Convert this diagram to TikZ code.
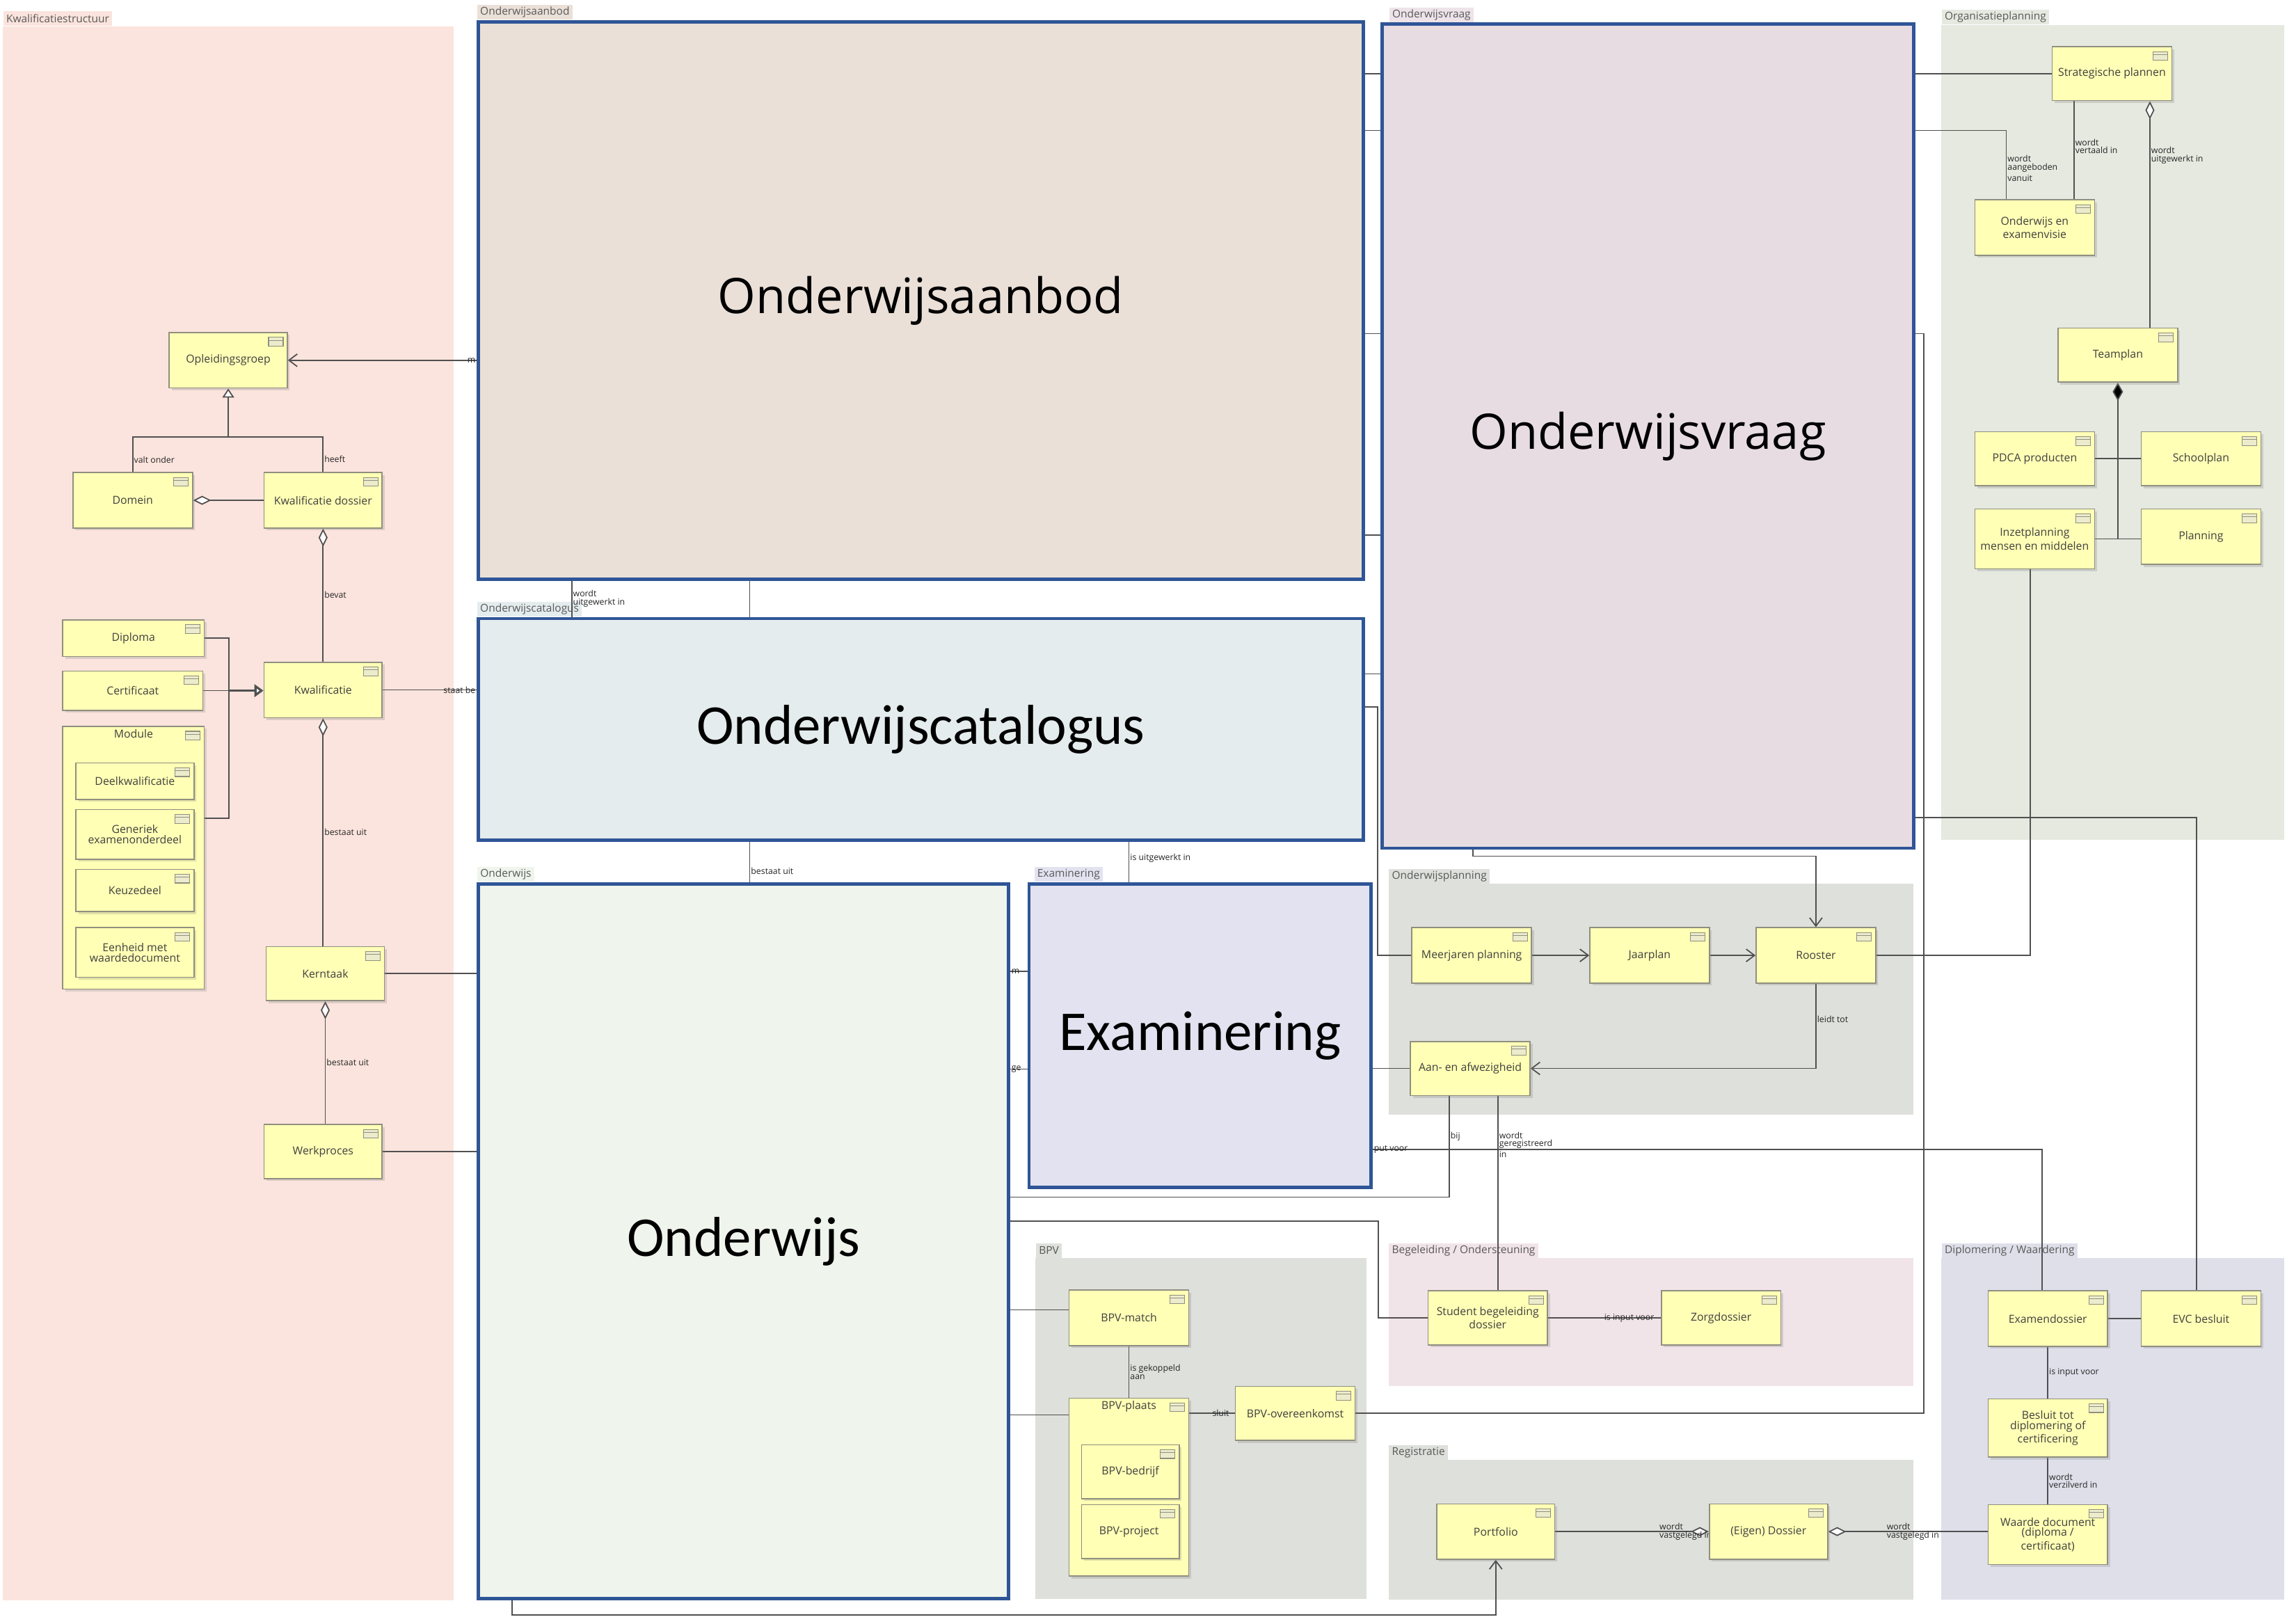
\documentclass[tikz,border=0pt]{standalone}
\usepackage{fontspec}
\setmainfont{Open Sans}
\newfontfamily\carlitofont{Carlito}
\usepackage{tikz}
\usetikzlibrary{arrows.meta, backgrounds, shadows}
\definecolor{kwalColor}{RGB}{251, 228, 221}
\definecolor{orgColor}{RGB}{229, 233, 224}
\definecolor{planColor}{RGB}{222, 224, 219}
\definecolor{begColor}{RGB}{241, 228, 232}
\definecolor{diplColor}{RGB}{223, 223, 234}
\definecolor{elemFill}{RGB}{255, 255, 181}
\definecolor{elemBorder}{RGB}{143, 143, 128}
\definecolor{iconFill}{RGB}{236, 236, 205}
\definecolor{blockBorder}{RGB}{47, 85, 151}
\definecolor{aanbodColor}{RGB}{234, 224, 216}
\definecolor{catColor}{RGB}{228, 236, 238}
\definecolor{owColor}{RGB}{239, 245, 236}
\definecolor{examColor}{RGB}{226, 226, 240}
\definecolor{vraagColor}{RGB}{232, 220, 227}
\definecolor{connColor}{RGB}{80, 80, 80}
\newcommand\elemfont{\fontsize{4.5}{4.2}\selectfont}
\newcommand\lblfont{\fontsize{3.5}{3.3}\selectfont}
\newcommand\tabfont{\fontsize{4.4}{4.4}\selectfont}
\newcommand\blockfontA{\carlitofont\fontsize{23}{26}\selectfont}
\newcommand\blockfontB{\fontsize{20}{24}\selectfont}
\newcommand\pxu{0.2096mm}

\begin{document}
\begin{tikzpicture}[x=0.2096mm, y=-0.2096mm,
    elem/.style={draw=elemBorder, fill=elemFill, line width=0.45pt, font=\elemfont,
        text=black!75, align=center, inner sep=0.5pt,
        drop shadow={shadow xshift=0.35mm, shadow yshift=-0.35mm, opacity=0.25},
        path picture={
            \draw[elemBorder, fill=iconFill, line width=0.3pt]
                ([xshift=-0.6mm, yshift=-0.7mm]path picture bounding box.north east)
                rectangle ++(-2.1mm, -1.26mm);
            \draw[elemBorder, line width=0.25pt]
                ([xshift=-0.6mm, yshift=-1.1mm]path picture bounding box.north east)
                -- ++(-2.1mm, 0);
        }},
    bigblock/.style={draw=blockBorder, line width=1.3pt, text=black},
    tab/.style={anchor=south west, font=\tabfont, text=black!65, inner xsep=1.2pt,
        inner ysep=0pt, minimum height=10*\pxu},
    conn/.style={draw=connColor, line width=0.5pt},
    lbl/.style={font=\lblfont, text=black!85, inner sep=0.3pt, align=left},
    inlabel/.style={anchor=north, font=\elemfont, text=black!75, inner sep=1.2pt},
    aggstart/.style={arrows={Diamond[fill=white, length=2.6mm, width=1.3mm]-}},
    aggend/.style={arrows={-Diamond[fill=white, length=2.6mm, width=1.3mm]}},
    compstart/.style={arrows={Diamond[fill=black, length=2.6mm, width=1.5mm]-}},
    genarrow/.style={arrows={-Triangle[fill=white, length=1.3mm, width=1.7mm]}},
    flow/.style={arrows={-Straight Barb[length=1.2mm, width=1.8mm]}}
    ]
    \useasboundingbox (0,0) rectangle (1568,1113);

    % Big blocks
    \node[bigblock, fill=aanbodColor, minimum width=606.6*\pxu, minimum height=382*\pxu,
          font=\blockfontB] (aanbod) at (631.3,206) {Onderwijsaanbod};
    \node[bigblock, fill=catColor, minimum width=606.6*\pxu, minimum height=152*\pxu,
          font=\blockfontA] (cat) at (631.3,500) {Onderwijscatalogus};
    \node[bigblock, fill=owColor, minimum width=363.5*\pxu, minimum height=490*\pxu,
          font=\blockfontA] (ow) at (509.8,851) {Onderwijs};
    \node[bigblock, fill=examColor, minimum width=234.4*\pxu, minimum height=208*\pxu,
          font=\blockfontA] (exam) at (822.8,710) {Examinering};
    \node[bigblock, fill=vraagColor, minimum width=364.5*\pxu, minimum height=565*\pxu,
          font=\blockfontB] (vraag) at (1129.8,299) {Onderwijsvraag};

    % Containers
    \node[elem, minimum width=97*\pxu, minimum height=180*\pxu,
          label={[inlabel, name=modlbl]north:Module}] (module) at (91.5,588) {};
    \node[elem, minimum width=82*\pxu, minimum height=122*\pxu,
          label={[inlabel, name=plaatslbl]north:BPV-plaats}] (bplaats) at (774,1019.5) {};

    % Elements
    \foreach \nm/\x/\y/\w/\h/\tx in {
        opl/156.5/247/81/38/Opleidingsgroep,
        dom/91/343/82/38/Domein,
        kdos/221.5/343/81/38/Kwalificatie dossier,
        diploma/91.5/437.5/97/25/Diploma,
        cert/91/473.5/96/27/Certificaat,
        deel/92.5/535.5/81/25/Deelkwalificatie,
        gen/92.5/572/81/34/{Generiek\\examenonderdeel},
        keuze/92.5/610.5/81/29/Keuzedeel,
        eenheid/92.5/653/81/34/{Eenheid met\\waardedocument},
        kwal/221.5/473/81/38/Kwalificatie,
        kern/223/667.5/81/37/Kerntaak,
        werk/221.5/789.5/81/37/Werkproces,
        strat/1448/50.5/82/37/Strategische plannen,
        oev/1395/156/82/38/{Onderwijs en\\examenvisie},
        team/1452/243.5/82/37/Teamplan,
        pdca/1395/314.5/82/37/PDCA producten,
        school/1509/314.5/82/37/Schoolplan,
        inzet/1395/369.5/82/41/{Inzetplanning\\mensen en middelen},
        plan/1509/368/82/38/Planning,
        mjp/1009/655/82/38/Meerjaren planning,
        jaar/1131/655/82/38/Jaarplan,
        roos/1245/655/82/38/Rooster,
        aan/1008/732.5/82/37/Aan- en afwezigheid,
        sbd/1020/903.5/82/37/{Student begeleiding\\dossier},
        zorg/1180/903.5/82/37/Zorgdossier,
        port/1025.5/1050/81/38/Portfolio,
        eig/1212.5/1050/81/38/(Eigen) Dossier,
        exd/1404/904/82/38/Examendossier,
        evc/1509/904/82/38/EVC besluit,
        besl/1404/979/82/40/{Besluit tot\\diplomering of\\certificering},
        waarde/1404/1052/82/41/{Waarde document\\(diploma /\\certificaat)},
        bmatch/774/903.5/82/38/BPV-match,
        bovk/888/969/82/37/BPV-overeenkomst,
        bbedr/775/1009/67/37/BPV-bedrijf,
        bproj/775/1050/67/37/BPV-project
    } {
        \node[elem, minimum width=\w*\pxu, minimum height=\h*\pxu] (\nm) at (\x,\y) {\tx};
    }

    \begin{scope}[on background layer]
        \fill[white] (0,0) rectangle (1568,1113);
        % Groups
        \foreach \id/\xa/\ya/\xb/\yb/\col/\name in {
            gkwal/2/18/311/1097/kwalColor/Kwalificatiestructuur,
            gorg/1331/17/1566/576/orgColor/Organisatieplanning,
            gplan/952/606/1312/764/planColor/Onderwijsplanning,
            gbpv/710/862.6/937/1096/planColor/BPV,
            gbeg/952/862.6/1312/950/begColor/{Begeleiding / Ondersteuning},
            greg/952/1001/1312/1096.5/planColor/Registratie,
            gdipl/1331/862.6/1566/1096.6/diplColor/{Diplomering / Waardering}
        } {
            \fill[\col] (\xa,\ya) rectangle (\xb,\yb);
            \node[tab, fill=\col] (\id) at (\xa,\ya) {\name};
        }
        \node[tab, fill=aanbodColor] (taanbod) at (aanbod.north west) {Onderwijsaanbod};
        \node[tab, fill=catColor] (tcat) at (cat.north west) {Onderwijscatalogus};
        \node[tab, fill=owColor] (tow) at (ow.north west) {Onderwijs};
        \node[tab, fill=examColor] (texam) at ([xshift=0.9mm]exam.north west) {Examinering};
        \node[tab, fill=vraagColor!80] (tvraag) at ([xshift=1.2mm]vraag.north west) {Onderwijsvraag};

        % Kwalificatiestructuur
        \draw[conn, flow] (aanbod.west |- opl.east) -- node[lbl, anchor=east, pos=0]{m} (opl.east);
        \coordinate (gj) at (156.5,299.5);
        \draw[conn] (dom.north) -- node[lbl, anchor=west, pos=0.35]{valt onder} (dom.north |- gj)
            -- (kdos.north |- gj) -- node[lbl, anchor=west, pos=0.63]{heeft} (kdos.north);
        \draw[conn, genarrow] (gj) -- (opl.south);
        \draw[conn, aggstart] (dom.east) -- (kdos.west);
        \draw[conn, aggstart] (kdos.south) -- node[lbl, anchor=west]{bevat} (kwal.north);
        \coordinate (dj) at (157,473.5);
        \draw[conn] (diploma.east) -| (dj);
        \draw[conn] (module.east |- 0,561) -| (dj);
        \draw[conn] (cert.east) -- (dj);
        \draw[conn, line width=0.9pt, arrows={-Triangle[fill=white, length=1.3mm, width=1.8mm]}]
            (dj) -- (kwal.west |- dj);
        \draw[conn] (kwal.east) -- node[lbl, anchor=east, pos=1]{staat be} (cat.west |- kwal.east);
        \draw[conn, aggstart] (kwal.south) -- node[lbl, anchor=west]{bestaat uit} (kwal.south |- kern.north);
        \draw[conn, aggstart] (kern.south) -- node[lbl, anchor=west]{bestaat uit} (kern.south |- werk.north);
        \draw[conn] (kern.east) -- (ow.west |- kern.east);
        \draw[conn] (werk.east) -- (ow.west |- werk.east);

        % Aanbod, catalogus, onderwijs, examinering
        \draw[conn] (aanbod.south -| 392,0) -- node[lbl, anchor=west]{wordt\\uitgewerkt in} (cat.north -| 392,0);
        \draw[conn] (aanbod.south -| 514,0) -- (cat.north -| 514,0);
        \draw[conn] (cat.south -| 514,0) -- node[lbl, anchor=west, pos=0.73]{bestaat uit} (ow.north -| 514,0);
        \draw[conn] (cat.south -| 774,0) -- node[lbl, anchor=west, pos=0.4]{is uitgewerkt in} (exam.north -| 774,0);
        \draw[conn] (ow.east |- 0,666) -- node[lbl, anchor=west, pos=0]{m} (exam.west |- 0,666);
        \draw[conn] (ow.east |- 0,733) -- node[lbl, anchor=west, pos=0]{ge} (exam.west |- 0,733);
        \draw[conn] (exam.east |- aan.west) -- (aan.west);
        \draw[conn] (exam.east |- 0,788) -| node[lbl, anchor=west, pos=0]{put voor} (exd.north -| 1400,0);
        \draw[conn] (ow.east |- 0,820.7) -| node[lbl, anchor=west, pos=0.8]{bij} (aan.south -| 993.6,0);
        \draw[conn] (aan.south -| 1027,0) -- node[lbl, anchor=west, pos=0.25]{wordt\\geregistreerd\\in} (sbd.north -| 1027,0);
        \draw[conn] (ow.east |- 0,837) -| (945,0 |- sbd.west) -- (sbd.west);
        \draw[conn] (sbd.east) -- node[lbl, pos=0.72]{is input voor} (zorg.west);
        \draw[conn, flow] (ow.south -| 351,0) |- (port.south |- 0,1107) -- (port.south);
        \draw[conn, aggend] (port.east) -- node[lbl, anchor=west, pos=0.67]{wordt\\vastgelegd in} (eig.west);
        \draw[conn, aggstart] (eig.east) -- node[lbl, anchor=west, pos=0.36]{wordt\\vastgelegd in} (eig.east -| waarde.west);

        % BPV
        \draw[conn] (ow.east |- 0,898) -- (bmatch.west |- 0,898);
        \draw[conn] (ow.east |- 0,970) -- (bplaats.west |- 0,970);
        \draw[conn] (bmatch.south) -- node[lbl, anchor=west]{is gekoppeld\\aan} (bplaats.north);
        \draw[conn] (bplaats.east |- bovk.west) -- node[lbl, pos=0.69]{sluit} (bovk.west);
        \draw[conn] (aanbod.east |- 0,228.7) -| (1319,0 |- bovk.east) -- (bovk.east);

        % Onderwijsvraag
        \draw[conn] (aanbod.east |- strat.west) -- (strat.west);
        \draw[conn] (aanbod.east |- 0,89.4) -| node[lbl, anchor=west, pos=0.775]{wordt\\aangeboden\\vanuit} (oev.north -| 1375.5,0);
        \draw[conn] (aanbod.east |- 0,366.8) -- (vraag.west |- 0,366.8);
        \draw[conn] (cat.east |- 0,462) -- (vraag.west |- 0,462);
        \draw[conn] (cat.east |- 0,484.6) -| (944.6,0 |- mjp.west) -- (mjp.west);
        \draw[conn] (vraag.east |- 0,560.6) -| (evc.north -| 1506,0);
        \draw[conn, flow] (vraag.south -| 1010,0) |- (roos.north |- 0,587) -- (roos.north);

        % Organisatieplanning
        \draw[conn] (strat.south -| 1422,0) -- node[lbl, anchor=west, pos=0.46]{wordt\\vertaald in} (oev.north -| 1422,0);
        \draw[conn, aggstart] (strat.south -| 1474,0) -- node[lbl, anchor=west, pos=0.24]{wordt\\uitgewerkt in} (team.north -| 1474,0);
        \draw[conn, compstart] (team.south) -- (team.south |- inzet.east);
        \draw[conn] (pdca.east) -- (school.west);
        \draw[conn] (inzet.east) -- (inzet.east -| plan.west);
        \draw[conn] (roos.east) -| (inzet.south -| 1392,0);

        % Onderwijsplanning
        \draw[conn, flow] (mjp.east) -- (jaar.west);
        \draw[conn, flow] (jaar.east) -- (roos.west);
        \draw[conn, flow] (roos.south) |- node[lbl, anchor=west, pos=0.21]{leidt tot} (aan.east);

        % Diplomering
        \draw[conn] (exd.east) -- (evc.west);
        \draw[conn] (exd.south) -- node[lbl, anchor=west]{is input voor} (besl.north);
        \draw[conn] (besl.south) -- node[lbl, anchor=west]{wordt\\verzilverd in} (waarde.north);
    \end{scope}
\end{tikzpicture}
\end{document}
